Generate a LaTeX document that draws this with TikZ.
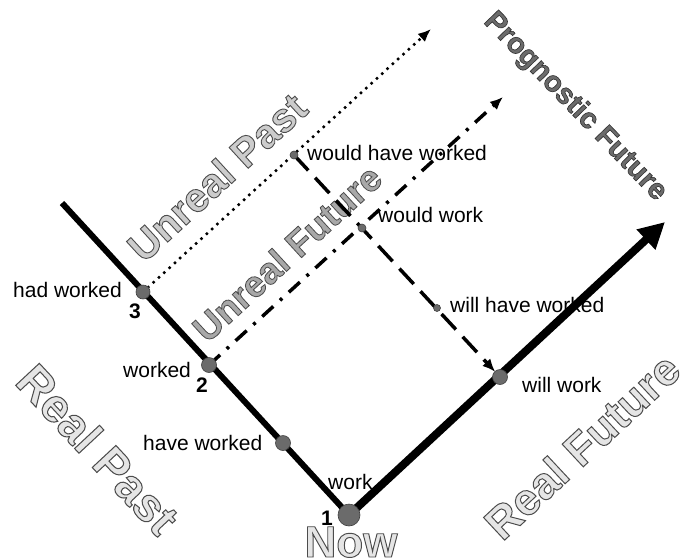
\documentclass[tikz,border=0pt]{standalone}
\usepackage{fontspec}
\setmainfont{Liberation Sans}
\newfontfamily\outfont{Liberation Sans Bold}[FakeBold=2.2]
\usetikzlibrary{arrows.meta}
\definecolor{dotgray}{gray}{0.42}
% outlined text: fill gray #1, stroke gray #2
\newcommand{\outl}[3]{{\outfont\special{pdf:bcolor [#1] [#2]}#3\special{pdf:ecolor}}}
\begin{document}
\begin{tikzpicture}[x=1pt,y=-1pt,
  lbl/.style={anchor=base west,inner sep=0pt,font=\fontsize{21}{25}\selectfont},
  num/.style={anchor=base west,inner sep=0pt,font=\fontsize{21}{25}\selectfont\bfseries},
  dotn/.style={circle,fill=dotgray,draw=black!75,line width=0.6pt,inner sep=0pt,minimum size=#1},
  big/.style={inner sep=0pt},
  thinarrow/.style={line width=3.5pt,-{Latex[length=13pt,width=11pt]}}
]
\useasboundingbox (0,0) rectangle (689,558);
% key points
\coordinate (pastend) at (62,203);
\coordinate (now) at (349,515);
\coordinate (futend) at (665,222);
\coordinate (hadw) at (143,292);
\coordinate (w) at (209,365);
\coordinate (havew) at (283,443);
\coordinate (willw) at (500,377);
\coordinate (wouldhw) at (294,155);
\coordinate (wouldw) at (362,228);
\coordinate (willhw) at (437,308);
\coordinate (dotend) at (431,29);
\coordinate (ddend) at (503,97);

% big outlined labels
\node[big,rotate=42.5,font=\fontsize{41}{43}\selectfont] at (217,177) {\outl{0.80}{0.3}{Unreal Past}};
\node[big,rotate=42.5,font=\fontsize{37}{39}\selectfont] at (287,253) {\outl{0.66}{0.3}{Unreal Future}};
\node[big,rotate=-46,font=\fontsize{29}{31}\selectfont] at (575,107) {\outl{0.42}{0.2}{Prognostic Future}};
\node[big,rotate=-47,font=\fontsize{47}{49}\selectfont] at (98,449) {\outl{0.9}{0.3}{Real Past}};
\node[big,rotate=43,font=\fontsize{45}{47}\selectfont] at (582,446) {\outl{0.9}{0.3}{Real Future}};
\node[big,anchor=base,font=\fontsize{44}{46}\selectfont] at (351,557) {\outl{0.9}{0.3}{Now}};

% connectors
\draw[line width=6pt] (pastend) -- (now);
\draw[line width=8pt,-{Triangle[length=26pt,width=26pt]}] (now) -- (futend);
\draw[thinarrow,line cap=round,dash pattern=on 0pt off 7.2pt] (hadw) -- (dotend);
\draw[thinarrow,dash pattern=on 15pt off 9pt on 3pt off 9pt] (w) -- (ddend);
\draw[thinarrow,dash pattern=on 21pt off 10pt,shorten >=7pt] (wouldhw) -- (willw);

% dots
\node[dotn=14pt] (nhadw) at (hadw) {};
\node[dotn=15pt] (nw) at (w) {};
\node[dotn=15pt] (nhavew) at (havew) {};
\node[dotn=15pt] (nwillw) at (willw) {};
\node[dotn=22pt] (nnow) at (now) {};
\node[dotn=8pt] (nwouldhw) at (wouldhw) {};
\node[dotn=8pt] (nwouldw) at (wouldw) {};
\node[dotn=7pt] (nwillhw) at (willhw) {};

% small labels
\node[lbl] (t1) at (307,160) {would have worked};
\node[lbl] (t2) at (378,222) {would work};
\node[lbl] (t3) at (450,312) {will have worked};
\node[lbl] (t4) at (522,392) {will work};
\node[lbl] (t5) at (328,489) {work};
\node[lbl] (t6) at (143,450) {have worked};
\node[lbl] (t7) at (123,377) {worked};
\node[lbl] (t8) at (13,297) {had worked};
\node[num] (n3) at (129,318) {3};
\node[num] (n2) at (196,392) {2};
\node[num] (n1) at (321,525) {1};
\end{tikzpicture}
\end{document}
